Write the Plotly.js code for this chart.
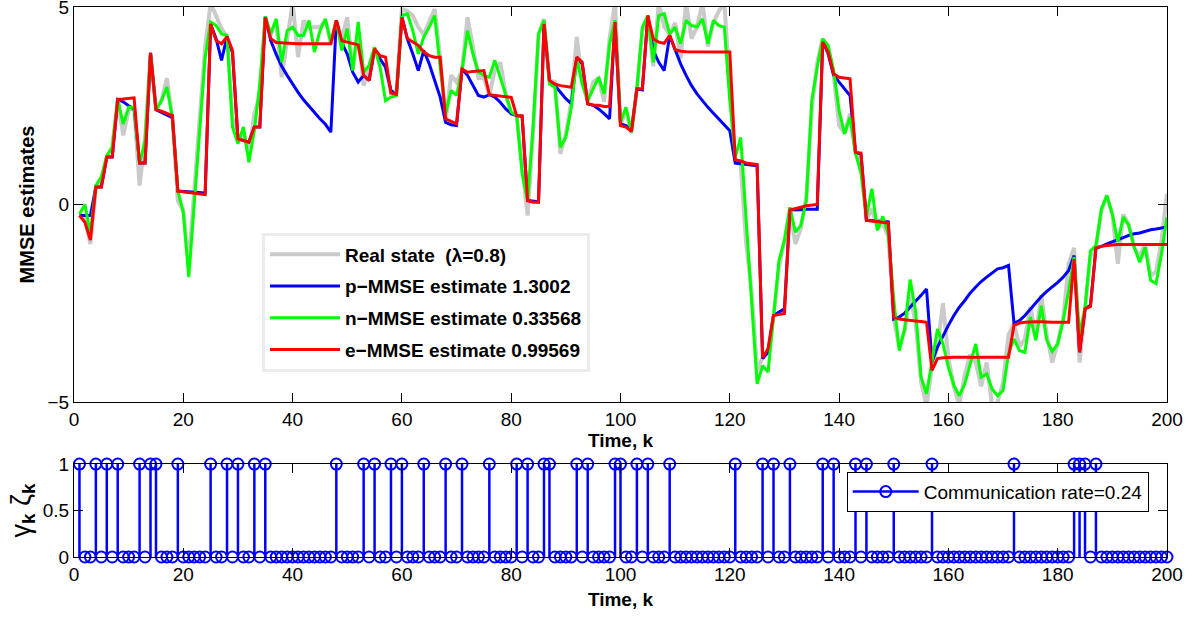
<!DOCTYPE html>
<html><head><meta charset="utf-8">
<script src="https://cdn.plot.ly/plotly-3.0.1.min.js"></script>
<style>html,body{margin:0;padding:0;background:#fff}#chart{width:1193px;height:617px}</style>
</head><body><div id="chart"></div>
<script>
const timeSteps = Array.from({length: 200}, (_, i) => i + 1);

const realState = [
 -0.28,-0.35,-1.0,0.44,0.6,1.2,1.45,2.66,1.75,2.38, 2.46,0.48,1.66,3.84,2.42,2.63,3.2,2.2,0.1,-0.15,
 -1.5,0.3,2.2,4.0,5.1,4.78,4.45,4.25,2.2,1.66, 1.8,1.3,2.3,2.76,4.74,4.3,4.6,3.22,4.24,5.1,
 3.73,4.66,4.49,4.49,4.49,4.66,4.07,4.66,4.2,4.74, 3.4,4.4,3.01,3.5,3.94,3.6,3.5,2.82,2.9,4.95,
 4.9,4.78,4.49,4.3,4.66,4.95,3.73,2.1,3.27,3.1, 3.39,4.74,4.0,3.2,3.2,2.78,3.4,3.6,2.8,2.3,
 2.25,0.9,-0.28,1.8,4.3,4.7,3.14,3.1,1.28,1.8, 2.6,4.24,3.1,2.6,3.1,3.2,2.6,4.2,5.1,2.0,
 2.4,1.8,2.93,4.4,4.78,3.5,5.1,4.5,4.3,4.6, 3.7,5.1,4.2,4.5,5.1,4.0,4.6,4.9,5.1,3.0,
 1.13,1.0,-1.0,-2.2,-4.2,-3.87,-3.7,-2.81,-1.6,-0.9, -0.14,-1.0,-0.6,0.2,2.4,3.6,4.2,3.95,3.3,2.0,
 1.8,2.3,1.3,1.0,-0.4,-0.1,-0.6,-0.5,-0.8,-2.9, -3.6,-3.2,-2.3,-3.0,-4.5,-5.1,-4.1,-3.6,-2.5,-3.9,
 -4.6,-5.1,-4.3,-3.8,-4.0,-4.6,-4.0,-5.1,-5.0,-4.5, -3.3,-3.0,-3.6,-3.4,-2.6,-3.3,-2.3,-3.3,-4.0,-3.5,
 -2.9,-1.5,-1.1,-4.0,-2.6,-1.3,-1.1,-0.15,0.2,-0.25, -1.5,-0.25,-0.5,-1.1,-1.3,-1.0,-1.8,-1.7,-0.9,0.27
];

const pMMSE = [
 -0.28,-0.28,-0.28,0.44,0.44,1.2,1.2,2.66,2.6,2.5, 2.42,1.05,1.05,3.84,2.4,2.33,2.27,2.2,0.34,0.33,
 0.32,0.31,0.3,0.29,4.57,4.2,3.65,4.25,3.85,1.66, 1.62,1.58,1.96,1.96,4.76,4.15,3.8,3.5,3.27,3.05,
 2.84,2.65,2.48,2.31,2.17,2.03,1.83,4.66,4.1,3.81, 3.35,3.1,3.27,3.14,3.94,3.69,3.48,2.89,2.76,4.76,
 4.19,3.81,3.39,3.9,3.56,3.14,2.72,2.08,2.02,2.0, 3.43,3.27,3.01,2.76,2.72,2.78,2.72,2.59,2.42,2.3,
 2.25,2.23,0.1,0.08,0.07,4.57,3.14,3.01,2.84,2.68, 2.55,3.73,3.56,2.55,2.51,2.42,2.3,2.17,4.62,2.04,
 2.0,1.87,2.93,2.9,4.78,3.9,3.6,3.39,4.28,3.9, 3.56,3.27,3.01,2.8,2.62,2.46,2.31,2.17,2.03,1.87,
 1.05,1.03,1.02,1.0,0.98,-3.9,-3.74,-2.81,-2.73,-2.64, -0.14,-0.14,-0.13,-0.12,-0.12,-0.12,4.15,3.81,3.27,3.1,
 2.93,2.76,1.32,1.28,-0.4,-0.41,-0.42,-0.43,-0.44,-2.9, -2.85,-2.75,-2.6,-2.47,-2.3,-2.14,-3.99,-3.61,-3.32,-3.06,
 -2.81,-2.6,-2.43,-2.24,-2.09,-1.95,-1.84,-1.73,-1.63,-1.6, -1.54,-3.0,-2.94,-2.81,-2.64,-2.47,-2.33,-2.2,-2.09,-1.97,
 -1.84,-1.67,-1.29,-3.74,-2.64,-2.55,-1.1,-1.06,-1.0,-0.95, -0.91,-0.84,-0.78,-0.74,-0.72,-0.68,-0.64,-0.62,-0.59,-0.57
];

const nMMSE = [
 -0.24,0.0,-0.74,0.48,0.7,1.24,1.45,2.66,2.04,2.46, 2.46,1.03,1.62,3.81,2.38,2.63,2.97,2.2,0.35,-0.2,
 -1.84,0.1,1.96,3.73,4.62,4.53,4.32,4.28,1.96,1.54, 1.96,1.07,1.87,3.05,4.76,4.32,4.7,3.6,4.4,4.49,
 4.28,4.28,4.66,3.86,4.4,4.7,4.1,4.66,3.9,4.45, 3.39,4.62,3.35,3.52,3.98,3.48,2.63,2.72,2.76,4.78,
 4.83,4.4,3.81,4.24,4.49,4.78,3.48,2.3,2.89,2.76, 3.39,4.4,3.81,3.35,3.27,3.22,3.65,3.22,2.8,2.34,
 2.25,0.78,0.1,1.96,4.32,4.66,3.05,2.97,1.45,1.7, 2.46,3.69,3.05,2.63,2.93,3.22,2.8,4.07,4.66,2.08,
 2.46,1.83,2.93,4.49,4.78,3.6,4.78,4.83,4.32,4.49, 4.07,4.66,4.53,4.5,4.7,4.07,4.66,4.53,4.49,2.63,
 1.2,1.7,-0.4,-2.5,-4.54,-4.08,-4.24,-2.85,-1.42,-0.91, -0.07,-0.7,-0.53,0.1,2.63,3.48,4.19,4.03,3.39,2.38,
 1.79,2.21,1.3,0.8,-0.3,0.4,-0.65,-0.3,-0.75,-2.4, -3.7,-3.15,-1.9,-2.7,-4.37,-4.79,-3.95,-3.15,-3.53,-4.12,
 -4.58,-4.84,-4.54,-4.03,-3.53,-4.37,-4.29,-4.67,-4.84,-4.71, -3.78,-3.4,-3.7,-3.74,-2.85,-3.44,-2.56,-3.44,-3.72,-3.53,
 -2.94,-2.19,-1.33,-3.3,-2.6,-1.17,-1.04,-0.11,0.23,-0.24, -0.95,-0.32,-0.53,-1.08,-1.46,-1.08,-1.92,-2.0,-1.24,-0.32
];

const eMMSE = [
 -0.28,-0.45,-0.9,0.44,0.44,1.2,1.2,2.66,2.67,2.68, 2.7,1.05,1.05,3.84,2.4,2.36,2.3,2.25,0.34,0.32,
 0.3,0.28,0.27,0.25,4.57,4.15,4.07,4.25,3.9,1.66, 1.62,1.58,1.96,1.96,4.74,4.2,4.1,4.09,4.08,4.08,
 4.07,4.07,4.07,4.07,4.07,4.07,4.07,4.66,4.15,4.11, 4.07,4.04,3.27,3.14,3.94,3.77,3.73,2.82,2.79,4.74,
 4.2,4.11,4.03,3.86,3.77,3.73,3.73,2.17,2.11,2.04, 3.43,3.35,3.37,3.38,3.39,2.78,2.76,2.74,2.72,2.71,
 2.25,2.25,0.1,0.06,0.06,4.57,3.14,3.05,3.01,2.99, 2.97,3.73,3.6,2.55,2.52,2.51,2.48,2.48,4.62,2.0,
 1.96,1.85,2.93,2.93,4.78,4.19,4.11,4.08,4.28,3.92, 3.88,3.87,3.87,3.86,3.86,3.86,3.86,3.86,3.86,3.86,
 1.13,1.1,1.05,1.03,1.01,-3.87,-3.65,-2.81,-2.78,-2.76, -0.14,-0.11,-0.07,-0.03,-0.01,0.0,4.11,3.86,3.31,3.22,
 3.2,3.18,1.32,1.3,-0.4,-0.42,-0.44,-0.46,-0.47,-2.85, -2.9,-2.92,-2.94,-2.95,-2.96,-2.98,-4.2,-3.9,-3.88,-3.87,
 -3.87,-3.87,-3.87,-3.87,-3.87,-3.87,-3.87,-3.87,-3.87,-3.87, -3.87,-3.06,-3.0,-2.98,-2.97,-2.97,-2.97,-2.98,-2.98,-2.98,
 -2.98,-2.98,-1.38,-3.74,-2.64,-2.58,-1.1,-1.06,-1.04,-1.02, -1.01,-1.01,-1.01,-1.01,-1.01,-1.01,-1.01,-1.01,-1.01,-1.01
];

// time steps k where gamma_k * zeta_k = 1 (communication events)
const commTimes = [1,4,6,8,12,14,15,19,25,28,30,33,35,48,53,55,58,60,64,68,
  71,76,81,83,86,87,92,94,99,100,103,105,109,121,126,128,131,137,139,
  143,145,150,157,172,183,184,185,187];

const legendNames = ['Real state  (\u03bb=0.8)', 'p\u2212MMSE estimate 1.3002',
  'n\u2212MMSE estimate 0.33568', 'e\u2212MMSE estimate 0.99569'];
const commLegend = 'Communication rate=0.24';
const xTicks = [0, 20, 40, 60, 80, 100, 120, 140, 160, 180, 200];

const commFlag = timeSteps.map(k => commTimes.includes(k) ? 1 : 0);
const stemX = [], stemY = [];
timeSteps.forEach((k, i) => { if (commFlag[i]) { stemX.push(k, k, null); stemY.push(0, commFlag[i], null); } });

const FONT = 'Liberation Sans, Arial, Helvetica, sans-serif';
const mk = (y, name, color, width, grp) => ({
  x: timeSteps, y: y, type: 'scatter', mode: 'lines', name: name,
  line: {color: color, width: width}, xaxis: 'x', yaxis: 'y',
  legend: 'legend', legendgroup: grp
});

const data = [
  mk(realState, legendNames[0], '#cacaca', 4, 'a'),
  mk(pMMSE, legendNames[1], '#0000ff', 3, 'b'),
  mk(nMMSE, legendNames[2], '#00ff00', 3, 'c'),
  mk(eMMSE, legendNames[3], '#ff0000', 3, 'd'),
  {x: stemX, y: stemY, type: 'scatter', mode: 'lines', line: {color: '#0000ff', width: 2.5},
   xaxis: 'x2', yaxis: 'y2', showlegend: false, hoverinfo: 'skip'},
  {x: timeSteps, y: commFlag, type: 'scatter', mode: 'markers', cliponaxis: false,
   marker: {symbol: 'circle-open', size: 11, color: '#0000ff', line: {width: 2, color: '#0000ff'}},
   xaxis: 'x2', yaxis: 'y2', showlegend: false},
  {x: [null], y: [null], type: 'scatter', mode: 'lines+markers', name: commLegend,
   line: {color: '#0000ff', width: 2.5},
   marker: {symbol: 'circle-open', size: 11, color: '#0000ff', line: {width: 2, color: '#0000ff'}},
   xaxis: 'x2', yaxis: 'y2', legend: 'legend2', showlegend: true}
];

const axisCommon = {
  showline: true, linecolor: '#000', linewidth: 1, mirror: 'ticks',
  ticks: 'inside', ticklen: 9, tickcolor: '#000', tickwidth: 1,
  showgrid: false, zeroline: false, ticklabeloverflow: 'allow',
  tickfont: {family: FONT, size: 19, color: '#000'}
};

const layout = {
  width: 1193, height: 617, paper_bgcolor: '#fff', plot_bgcolor: '#fff',
  margin: {l: 74, r: 26, t: 7, b: 60},
  font: {family: FONT, color: '#000'},
  xaxis: Object.assign({}, axisCommon, {domain: [0, 1], range: [0, 200], tickvals: xTicks,
    anchor: 'y', title: {text: '<b>Time, k</b>', font: {family: FONT, size: 19}, standoff: 2}}),
  yaxis: Object.assign({}, axisCommon, {domain: [0.2818, 1], range: [-5, 5], tickvals: [-5, 0, 5],
    ticktext: ['\u22125', '0', '5'], anchor: 'x',
    title: {text: '<b>MMSE estimates</b>', font: {family: FONT, size: 20}, standoff: 7}}),
  xaxis2: Object.assign({}, axisCommon, {domain: [0, 1], range: [0, 200], tickvals: xTicks,
    anchor: 'y2', title: {text: '<b>Time, k</b>', font: {family: FONT, size: 19}, standoff: 8}}),
  yaxis2: Object.assign({}, axisCommon, {domain: [0, 0.169], range: [0, 1], tickvals: [0, 0.5, 1], anchor: 'x2',
    title: {text: '\u03b3<sub><b>k</b></sub> \u03b6<sub><b>k</b></sub>', font: {family: FONT, size: 27}, standoff: 4}}),
  legend: {x: 0.172, y: 0.59, xanchor: 'left', yanchor: 'top', bgcolor: '#fff',
    bordercolor: '#ececec', borderwidth: 3, traceorder: 'grouped', tracegroupgap: 4,
    itemwidth: 70,
    font: {family: FONT, size: 19, color: '#000', weight: 'bold'}},
  legend2: {x: 0.707, y: 0.155, xanchor: 'left', yanchor: 'top', bgcolor: '#fff',
    bordercolor: '#000', borderwidth: 1, itemwidth: 66,
    font: {family: FONT, size: 19, color: '#000'}},
  showlegend: true
};

Plotly.newPlot('chart', data, layout, {displayModeBar: false, staticPlot: true});
</script></body></html>
